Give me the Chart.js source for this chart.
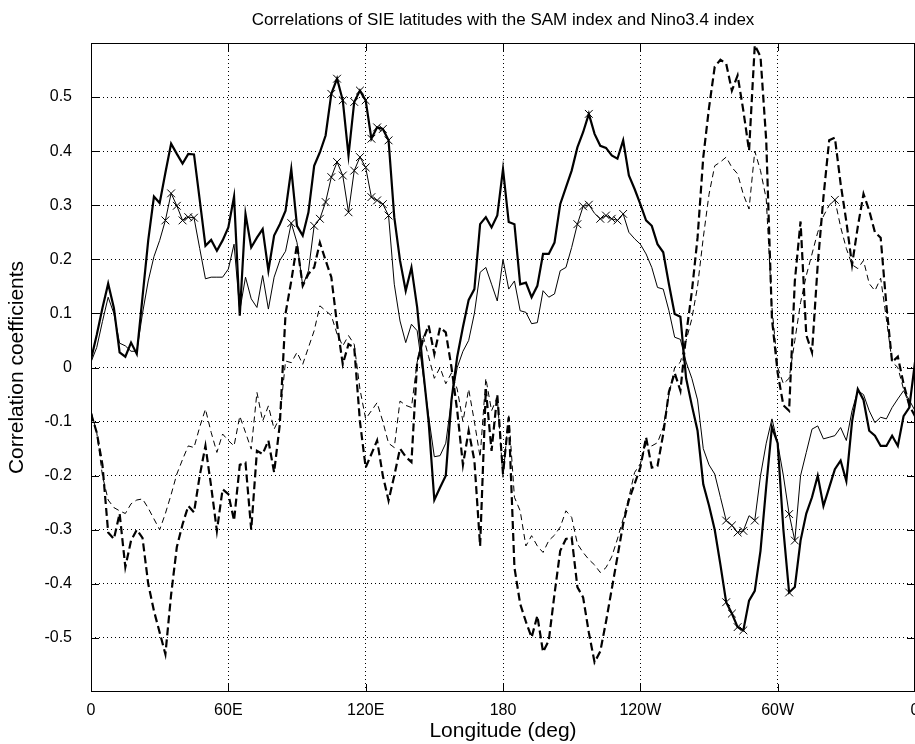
<!DOCTYPE html>
<html>
<head>
<meta charset="utf-8">
<script src="https://cdn.jsdelivr.net/npm/chart.js@4.4.1/dist/chart.umd.min.js"></script>
<style>
  html, body { margin: 0; padding: 0; background: #fff; overflow: hidden; }
  #wrap { width: 915px; height: 744px; overflow: hidden; }
</style>
</head>
<body>
<div id="wrap"><canvas id="chart" width="940" height="744"></canvas></div>
<script>
// longitude grid: 0..360 every 2.5 deg
const lonStep = 2.5;
const lons = Array.from({ length: 145 }, (_, i) => i * lonStep);

const xTickLabels = ['0', '60E', '120E', '180', '120W', '60W', '0'];
const chartTitle = 'Correlations of SIE latitudes with the SAM index and Nino3.4 index';

// thick solid line
const solidThick = [
  0.015, 0.06, 0.11, 0.155, 0.11, 0.028, 0.02, 0.046, 0.025, 0.13,
  0.235, 0.316, 0.304, 0.36, 0.414, 0.395, 0.377, 0.395, 0.394, 0.31,
  0.225, 0.236, 0.216, 0.235, 0.259, 0.316, 0.096, 0.284, 0.222, 0.24,
  0.256, 0.179, 0.244, 0.265, 0.29, 0.367, 0.262, 0.244, 0.287, 0.373,
  0.398, 0.429, 0.506, 0.534, 0.494, 0.392, 0.491, 0.512, 0.494, 0.423,
  0.444, 0.441, 0.42, 0.278, 0.198, 0.142, 0.185, 0.111, 0.0, -0.1,
  -0.245, -0.222, -0.2, -0.06, 0.02, 0.075, 0.125, 0.145, 0.265, 0.278,
  0.259, 0.281, 0.367, 0.269, 0.265, 0.154, 0.157, 0.13, 0.151, 0.21,
  0.21, 0.231, 0.302, 0.333, 0.364, 0.407, 0.435, 0.469, 0.432, 0.41,
  0.406, 0.392, 0.386, 0.42, 0.355, 0.33, 0.302, 0.272, 0.262, 0.228,
  0.213, 0.154, 0.099, 0.094, -0.02, -0.07, -0.117, -0.216, -0.255, -0.3,
  -0.365, -0.434, -0.455, -0.48, -0.486, -0.431, -0.413, -0.339, -0.22, -0.11,
  -0.14, -0.3, -0.416, -0.406, -0.32, -0.27, -0.24, -0.2, -0.256, -0.222,
  -0.188, -0.172, -0.21, -0.1, -0.04, -0.06, -0.117, -0.126, -0.145, -0.145,
  -0.126, -0.145, -0.09, -0.074, 0.01
];

// thin solid line
const solidThin = [
  0.01, 0.037, 0.085, 0.13, 0.1, 0.045, 0.04, 0.03, 0.03, 0.1,
  0.16, 0.205, 0.235, 0.272, 0.322, 0.299, 0.272, 0.278, 0.277, 0.22,
  0.164, 0.167, 0.167, 0.167, 0.182, 0.228, 0.105, 0.167, 0.127, 0.111,
  0.17, 0.108, 0.167, 0.198, 0.215, 0.267, 0.231, 0.151, 0.179, 0.262,
  0.275, 0.306, 0.352, 0.38, 0.355, 0.287, 0.364, 0.389, 0.37, 0.315,
  0.309, 0.302, 0.281, 0.154, 0.086, 0.046, 0.08, 0.068, -0.01, -0.09,
  -0.165, -0.163, -0.14, -0.06, 0.0, 0.03, 0.05, 0.1, 0.176, 0.185,
  0.154, 0.123, 0.2, 0.145, 0.16, 0.105, 0.102, 0.081, 0.083, 0.142,
  0.13, 0.136, 0.179, 0.185, 0.222, 0.265, 0.298, 0.301, 0.285, 0.275,
  0.281, 0.275, 0.272, 0.284, 0.25, 0.238, 0.228, 0.21, 0.185, 0.148,
  0.145, 0.105, 0.056, 0.052, 0.01, -0.02, -0.06, -0.15, -0.18, -0.197,
  -0.24, -0.283, -0.292, -0.305, -0.302, -0.274, -0.283, -0.2, -0.14, -0.095,
  -0.14, -0.2, -0.271, -0.32, -0.2, -0.157, -0.114, -0.108, -0.132, -0.129,
  -0.126, -0.111, -0.135, -0.08, -0.043, -0.05, -0.08, -0.102, -0.092, -0.095,
  -0.074, -0.058, -0.043, -0.06, -0.08
];

// thick dashed line
const dashThick = [
  -0.085, -0.12, -0.18, -0.305, -0.317, -0.27, -0.369, -0.32, -0.3, -0.315,
  -0.4, -0.45, -0.49, -0.53, -0.42, -0.332, -0.29, -0.256, -0.268, -0.2,
  -0.145, -0.22, -0.302, -0.225, -0.234, -0.283, -0.18, -0.176, -0.3, -0.154,
  -0.16, -0.135, -0.194, -0.105, 0.1, 0.16, 0.228, 0.151, 0.173, 0.185,
  0.231, 0.198, 0.167, 0.08, 0.006, 0.043, 0.037, -0.1, -0.185, -0.16,
  -0.135, -0.2, -0.246, -0.2, -0.15, -0.165, -0.175, 0.01, 0.05, 0.078,
  0.025, 0.074, 0.065, 0.0, -0.08, -0.18, -0.117, -0.172, -0.33, -0.04,
  -0.154, -0.05, -0.197, -0.092, -0.37, -0.437, -0.47, -0.499, -0.459, -0.526,
  -0.505, -0.419, -0.339, -0.317, -0.314, -0.406, -0.425, -0.49, -0.545, -0.525,
  -0.47, -0.41, -0.35, -0.289, -0.245, -0.215, -0.185, -0.129, -0.185, -0.182,
  -0.123, -0.045, -0.01, -0.043, 0.06, 0.14, 0.24, 0.389, 0.48, 0.556,
  0.569, 0.562, 0.512, 0.54, 0.475, 0.401, 0.596, 0.575, 0.42, 0.09,
  -0.01, -0.07, -0.08, 0.16, 0.27, 0.06, 0.028, 0.19, 0.315, 0.42,
  0.425, 0.34, 0.27, 0.19, 0.26, 0.321, 0.29, 0.25, 0.24, 0.115,
  0.01, 0.02, -0.03, -0.07, -0.09
];

// thin dashed line
const dashThin = [
  -0.08, -0.12, -0.2, -0.245, -0.259, -0.265, -0.27, -0.252, -0.245, -0.243,
  -0.26, -0.28, -0.3, -0.27, -0.235, -0.197, -0.17, -0.145, -0.148, -0.11,
  -0.077, -0.12, -0.157, -0.123, -0.135, -0.145, -0.09, -0.12, -0.151, -0.046,
  -0.099, -0.071, -0.114, -0.092, 0.012, 0.009, 0.028, 0.006, 0.037, 0.068,
  0.114, 0.105, 0.096, 0.062, 0.04, 0.059, 0.043, -0.04, -0.095, -0.08,
  -0.065, -0.1, -0.14, -0.148, -0.062, -0.07, -0.074, 0.01, 0.06, 0.02,
  -0.02, 0.0, -0.03, -0.01, -0.04, -0.1, -0.04, -0.1, -0.166, -0.02,
  -0.08, -0.055, -0.203, -0.086, -0.24, -0.265, -0.33, -0.311, -0.33, -0.342,
  -0.32, -0.31, -0.295, -0.265, -0.277, -0.326, -0.342, -0.355, -0.365, -0.379,
  -0.37, -0.35, -0.317, -0.28, -0.24, -0.194, -0.178, -0.14, -0.145, -0.139,
  -0.111, -0.05, 0.0, 0.01, 0.05, 0.09, 0.15, 0.24, 0.32, 0.373,
  0.38, 0.389, 0.37, 0.358, 0.32, 0.293, 0.4, 0.364, 0.312, 0.111,
  0.0, -0.03, -0.02, 0.05, 0.12, 0.17, 0.21, 0.25, 0.28, 0.3,
  0.31, 0.26, 0.22, 0.19, 0.183, 0.198, 0.155, 0.142, 0.165, 0.09,
  0.01, 0.0, -0.04, -0.07, -0.09
];

// longitudes that carry an "x" marker
const solidThickMarks = [105, 107.5, 110, 115, 117.5, 120, 122.5, 125, 127.5, 130, 217.5, 277.5, 280, 282.5, 285, 305];
const solidThinMarks = [32.5, 35, 37.5, 40, 42.5, 45, 87.5, 97.5, 100, 102.5, 105, 107.5, 110, 112.5, 115, 117.5,
  120, 122.5, 125, 127.5, 130, 212.5, 215, 217.5, 222.5, 225, 227.5, 230, 232.5, 277.5, 280, 282.5, 285, 290, 305, 307.5];
const dashThinMarks = [325];

const FONT = '"Liberation Sans", Arial, Helvetica, sans-serif';

function toPoints(values) {
  return lons.map((x, i) => ({ x: x, y: values[i] }));
}

function markRadius(marks) {
  return ctx => (ctx.raw && marks.includes(ctx.raw.x)) ? 5.5 : 0;
}

function lineSet(values, width, dash, marks) {
  return {
    data: toPoints(values),
    borderColor: '#000',
    backgroundColor: '#000',
    borderWidth: width,
    borderDash: dash,
    tension: 0,
    fill: false,
    pointStyle: 'crossRot',
    pointRadius: markRadius(marks),
    pointBorderWidth: 1,
    pointBorderColor: '#000'
  };
}

// frame, inward ticks and title (matlab style)
const framePlugin = {
  id: 'frame',
  afterDraw(chart) {
    const { ctx, chartArea: a, scales } = chart;
    ctx.save();
    ctx.strokeStyle = '#000';
    ctx.lineWidth = 1;
    ctx.setLineDash([]);
    ctx.strokeRect(a.left + 0.5, a.top + 0.5, a.width - 1, a.height - 1);

    const len = 8;
    ctx.beginPath();
    scales.x.ticks.forEach(t => {
      const px = Math.round(scales.x.getPixelForValue(t.value)) + 0.5;
      ctx.moveTo(px, a.bottom); ctx.lineTo(px, a.bottom - len);
      ctx.moveTo(px, a.top); ctx.lineTo(px, a.top + len);
    });
    scales.y.ticks.forEach(t => {
      const py = Math.round(scales.y.getPixelForValue(t.value)) + 0.5;
      ctx.moveTo(a.left, py); ctx.lineTo(a.left + len, py);
      ctx.moveTo(a.right, py); ctx.lineTo(a.right - len, py);
    });
    ctx.stroke();

    ctx.fillStyle = '#000';
    ctx.font = '17px ' + FONT;
    ctx.textAlign = 'center';
    ctx.textBaseline = 'middle';
    ctx.fillText(chartTitle, (a.left + a.right) / 2, 20);
    ctx.restore();
  }
};

new Chart(document.getElementById('chart'), {
  type: 'line',
  data: {
    datasets: [
      lineSet(solidThick, 2.2, [], solidThickMarks),
      lineSet(solidThin, 1, [], solidThinMarks),
      lineSet(dashThick, 2.2, [8, 4], []),
      lineSet(dashThin, 1, [6, 4], dashThinMarks)
    ]
  },
  options: {
    responsive: false,
    devicePixelRatio: 1,
    animation: false,
    events: [],
    layout: { padding: { left: 0, right: 25, top: 43, bottom: 0 } },
    plugins: { legend: { display: false }, tooltip: { enabled: false }, title: { display: false } },
    scales: {
      x: {
        type: 'linear',
        min: 0,
        max: 360,
        afterBuildTicks: s => { s.ticks = [0, 60, 120, 180, 240, 300, 360].map(v => ({ value: v })); },
        afterFit: s => { s.height = 52; },
        ticks: {
          color: '#000',
          font: { family: FONT, size: 16 },
          padding: 9,
          maxRotation: 0,
          callback: v => xTickLabels[Math.round(v / 60)]
        },
        grid: { color: '#000', lineWidth: 1, drawTicks: false },
        border: { display: false, dash: [1, 3] },
        title: {
          display: true,
          text: 'Longitude (deg)',
          color: '#000',
          font: { family: FONT, size: 21 },
          padding: { top: 0, bottom: 0 }
        }
      },
      y: {
        min: -0.6,
        max: 0.6,
        afterBuildTicks: s => {
          s.ticks = [-0.5, -0.4, -0.3, -0.2, -0.1, 0, 0.1, 0.2, 0.3, 0.4, 0.5].map(v => ({ value: v }));
        },
        afterFit: s => { s.width = 91; },
        ticks: {
          color: '#000',
          font: { family: FONT, size: 16 },
          padding: 19,
          callback: v => String(Math.round(v * 10) / 10)
        },
        grid: { color: '#000', lineWidth: 1, drawTicks: false },
        border: { display: false, dash: [1, 3] },
        title: {
          display: true,
          text: 'Correlation coefficients',
          color: '#000',
          font: { family: FONT, size: 21 },
          padding: { top: 5, bottom: 0 }
        }
      }
    }
  },
  plugins: [framePlugin]
});
</script>
</body>
</html>
